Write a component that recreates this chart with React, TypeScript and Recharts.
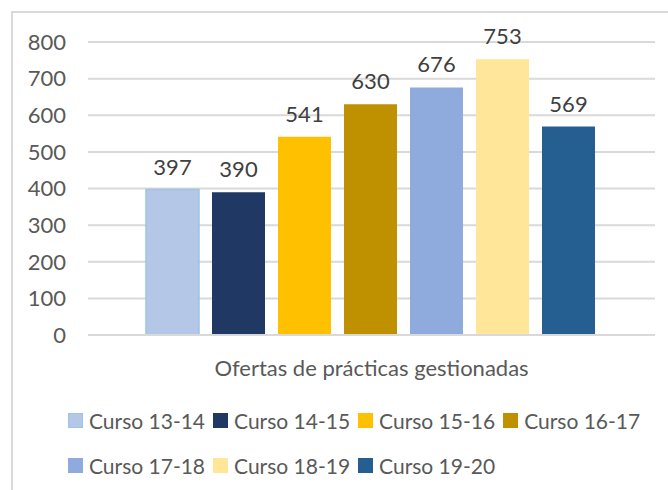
import React from 'react';
import { BarChart, Bar, XAxis, YAxis, CartesianGrid, Legend, LabelList } from 'recharts';

const category = 'Ofertas de prácticas gestionadas';
const courses = ['Curso 13-14', 'Curso 14-15', 'Curso 15-16', 'Curso 16-17', 'Curso 17-18', 'Curso 18-19', 'Curso 19-20'];
const offers = [397, 390, 541, 630, 676, 753, 569];
const yTicks = [0, 100, 200, 300, 400, 500, 600, 700, 800];

const colors = ['#b4c7e7', '#203864', '#ffc000', '#bf9000', '#8faadc', '#ffe699', '#255e91'];

const row: Record<string, string | number> = { name: category };
courses.forEach((c, i) => {
  row[c] = offers[i];
});
const data = [row];

const LegendBox = () => (
  <div
    style={{
      marginLeft: 68,
      width: 600,
      height: 90,
      paddingTop: 3,
      boxSizing: 'border-box',
      display: 'flex',
      flexWrap: 'wrap',
      alignContent: 'flex-start',
    }}
  >
    {courses.map((c, i) => (
      <div key={c} style={{ display: 'flex', alignItems: 'center', height: 45, marginRight: 8 }}>
        <span
          style={{
            width: i === 0 ? 13 : 15,
            height: i === 0 ? 13 : 15,
            background: colors[i],
            border: i === 0 ? '1px solid #9dc3e6' : 'none',
            marginRight: 6,
          }}
        />
        <span style={{ fontSize: 21, color: '#595959', whiteSpace: 'nowrap' }}>{c}</span>
      </div>
    ))}
  </div>
);

export default function App() {
  return (
    <div
      style={{
        position: 'fixed',
        left: 0,
        top: 0,
        width: 668,
        height: 490,
        overflow: 'hidden',
        background: '#fff',
        fontFamily: 'Lato, sans-serif',
      }}
    >
      <div
        style={{
          position: 'absolute',
          left: 11,
          top: 11,
          width: 700,
          height: 520,
          border: '2px solid #d9d9d9',
        }}
      />
      <div style={{ position: 'absolute', left: 0, top: 0 }}>
        <BarChart
          width={668}
          height={490}
          data={data}
          margin={{ top: 42, right: 13, bottom: 5, left: 0 }}
          barCategoryGap={58}
          barGap={13}
        >
          <CartesianGrid vertical={false} stroke="#d9d9d9" strokeWidth={2} />
          <XAxis
            dataKey="name"
            height={60}
            tickLine={false}
            tickSize={0}
            tickMargin={25}
            axisLine={{ stroke: '#d9d9d9', strokeWidth: 2 }}
            tick={{ fontSize: 22, fill: '#595959' }}
          />
          <YAxis
            width={88}
            domain={[0, 800]}
            ticks={yTicks}
            tickLine={false}
            tickSize={0}
            tickMargin={22}
            axisLine={false}
            tick={{ fontSize: 22, fill: '#595959' }}
          />
          <Legend verticalAlign="bottom" align="left" content={<LegendBox />} />
          {courses.map((c, i) => (
            <Bar
              key={c}
              dataKey={c}
              fill={colors[i]}
              stroke={i === 0 ? '#9dc3e6' : undefined}
              strokeWidth={i === 0 ? 1.5 : 0}
              isAnimationActive={false}
            >
              <LabelList dataKey={c} position="top" offset={15} fill="#404040" fontSize={22} />
            </Bar>
          ))}
        </BarChart>
      </div>
    </div>
  );
}
